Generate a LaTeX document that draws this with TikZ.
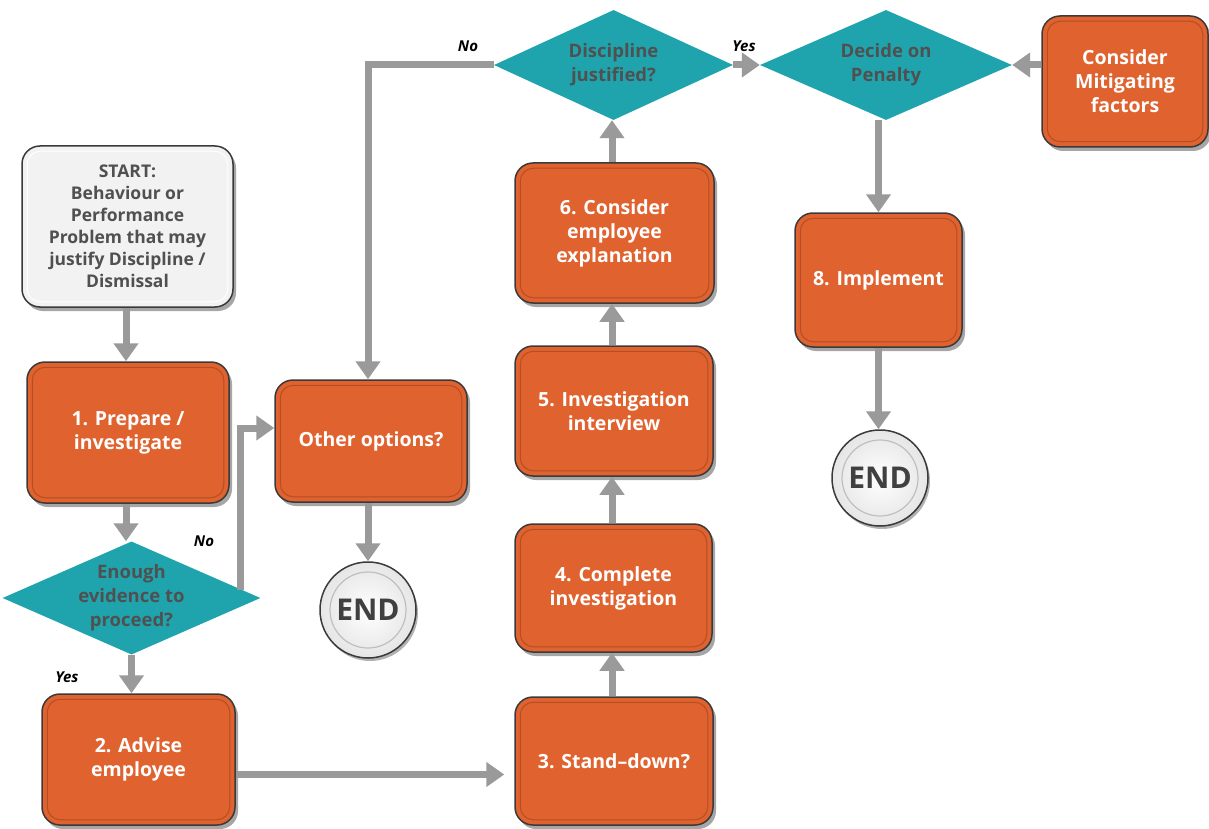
\documentclass[tikz,border=0pt]{standalone}
\usepackage{fontspec}
\setmainfont{Open Sans}
\usetikzlibrary{shapes.geometric,arrows.meta,shadows,calc}
\definecolor{orng}{HTML}{E0622F}
\definecolor{teal2}{HTML}{1FA4AE}
\definecolor{arrg}{HTML}{9A9A9A}
\definecolor{dtxt}{HTML}{505050}
\definecolor{bord}{HTML}{3A3A3A}
\definecolor{startfill}{HTML}{F2F2F2}
\tikzset{
  box/.style={rectangle, rounded corners=18pt, draw=bord, line width=1.5pt, fill=orng, text=white,
    font=\bfseries\fontsize{19.5}{24}\selectfont, align=center, inner sep=0pt,
    drop shadow={shadow xshift=3pt, shadow yshift=-4pt, opacity=0.35, fill=black}},
  startbox/.style={box, fill=startfill, text=dtxt, font=\bfseries\fontsize{17.5}{22}\selectfont},
  dia/.style={diamond, fill=teal2, text=dtxt, font=\bfseries\fontsize{18.5}{24}\selectfont, align=center, inner sep=0pt},
  endc/.style={circle, draw=bord, line width=1.5pt, inner color=white, outer color=black!10, text=black!75,
    font=\bfseries\fontsize{30}{30}\selectfont, inner sep=0pt, minimum size=96pt,
    drop shadow={shadow xshift=2pt, shadow yshift=-3pt, opacity=0.3, fill=black}},
  arr/.style={draw=arrg, line width=7pt, -{Triangle[length=18pt,width=24pt]}},
  lbl/.style={font=\bfseries\itshape\fontsize{15}{15}\selectfont, text=black},
}
\newcommand{\innerb}[2][orng!80!black]{\draw[#1, line width=1pt, rounded corners=13pt] ([shift={(6,6)}]#2.north west) rectangle ([shift={(-6,-6)}]#2.south east);}
\newcommand{\innerc}[1]{\draw[black!25, line width=1.2pt] (#1.center) circle (38pt);}
\begin{document}
\begin{tikzpicture}[x=1pt,y=-1pt]
\useasboundingbox (0,0) rectangle (1209,829);
% nodes
\node[startbox, minimum width=211pt, minimum height=161pt] (start) at (127.5,226.5)
  {START:\\ Behaviour or\\ Performance\\ Problem that may\\ justify Discipline /\\ Dismissal};
\innerb[white]{start}
\node[box, minimum width=202pt, minimum height=141pt] (b1) at (128,432.5) {1. Prepare /\\ investigate};
\innerb{b1}
\node[dia, minimum width=251pt, minimum height=110pt, aspect=2.28] (d1) at (131.5,598) {Enough\\ evidence to\\ proceed?};
\node[box, minimum width=193pt, minimum height=131pt] (b2) at (138.5,759.5) {2. Advise\\ employee};
\innerb{b2}
\node[box, minimum width=192pt, minimum height=122pt] (oth) at (371,441) {Other options?};
\innerb{oth}
\node[endc] (end1) at (368,610) {END};
\innerc{end1}
\node[box, minimum width=198pt, minimum height=128pt] (b3) at (614,761) {3. Stand–down?};
\innerb{b3}
\node[box, minimum width=197pt, minimum height=128pt] (b4) at (613.5,588) {4. Complete\\ investigation};
\innerb{b4}
\node[box, minimum width=198pt, minimum height=130pt] (b5) at (614,411) {5. Investigation\\ interview};
\innerb{b5}
\node[box, minimum width=199pt, minimum height=140pt] (b6) at (614.5,233) {6. Consider\\ employee\\ explanation};
\innerb{b6}
\node[dia, minimum width=239pt, minimum height=110pt, aspect=2.17] (dj) at (613.5,65) {Discipline\\ justified?};
\node[dia, minimum width=252pt, minimum height=110pt, aspect=2.29] (dp) at (886,65) {Decide on\\ Penalty};
\node[box, minimum width=166pt, minimum height=131pt] (mit) at (1125,81.5) {Consider\\ Mitigating\\ factors};
\innerb{mit}
\node[box, minimum width=167pt, minimum height=134pt] (b8) at (878.5,280) {8. Implement};
\innerb{b8}
\node[endc] (end2) at (880,478) {END};
\innerc{end2}
% connectors
\coordinate (d1no) at (240,590);
\draw[arr] ([xshift=-1.5pt]start.south) -- ([xshift=-1.5pt]start.south |- b1.north);
\draw[arr] ([xshift=-2pt]b1.south) -- ([xshift=-2pt]b1.south |- d1.north);
\draw[arr] (d1.south) -- (d1.south |- b2.north);
\draw[arr] (d1no) |- ([yshift=13pt]oth.west);
\draw[arr] ([xshift=-3pt]oth.south) -- ([xshift=-3pt]oth.south |- end1.north);
\draw[arr, shorten >=10pt] ([yshift=-15pt]b2.east) -- ([yshift=-15pt]b2.east -| b3.west);
\draw[arr] ([xshift=-2pt]b3.north) -- ([xshift=-2pt]b3.north |- b4.south);
\draw[arr] ([xshift=-1.5pt]b4.north) -- ([xshift=-1.5pt]b4.north |- b5.south);
\draw[arr] ([xshift=-2pt]b5.north) -- ([xshift=-2pt]b5.north |- b6.south);
\draw[arr] ([xshift=-2.5pt]b6.north) -- ([xshift=-2.5pt]b6.north |- dj.south);
\draw[arr] (dj.west) -| ([xshift=-3pt]oth.north);
\draw[arr] (dj.east) -- (dp.west);
\draw[arr] (mit.west |- dp.east) -- (dp.east);
\draw[arr] (b8.north |- dp.south) -- (b8.north);
\draw[arr] (b8.south) -- (b8.south |- end2.north);
% labels
\node[lbl] (lno1) at (468,46) {No};
\node[lbl] (lyes1) at (744,46) {Yes};
\node[lbl] (lno2) at (204,541) {No};
\node[lbl] (lyes2) at (67,677) {Yes};
\end{tikzpicture}
\end{document}
